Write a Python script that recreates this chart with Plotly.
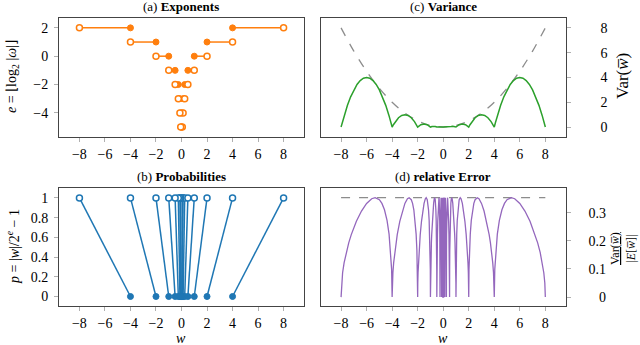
import plotly.graph_objects as go

# exponent e and the range [lo, hi) of |w| that it covers
exponents = [-5, -4, -3, -2, -1, 0, 1, 2]
lo_edges = [0.03125, 0.0625, 0.125, 0.25, 0.5, 1, 2, 4]
hi_edges = [0.0625, 0.125, 0.25, 0.5, 1, 2, 4, 8]

# variance of the rounded weight, read for w >= 0 (curve is symmetric)
var_w = [0, 0.25, 0.375, 0.5, 0.625, 0.75, 0.875, 1, 1.25, 1.5, 1.75, 2,
         2.1, 2.25, 2.5, 2.75, 3, 3.25, 3.5, 3.75, 3.9, 4,
         4.1, 4.25, 4.5, 4.75, 5, 5.25, 5.5, 5.75, 6,
         6.25, 6.5, 6.75, 7, 7.25, 7.5, 7.75, 7.9, 8]
var_vals = [0, 0, 0.016, 0, 0.047, 0.0625, 0.047, 0, 0.1875, 0.25, 0.1875, 0,
            0.19, 0.4375, 0.75, 0.9375, 1, 0.9375, 0.75, 0.4375, 0.19, 0,
            0.39, 0.9375, 1.75, 2.4375, 3, 3.4375, 3.75, 3.9375, 4,
            3.9375, 3.75, 3.4375, 3, 2.4375, 1.75, 0.9375, 0.39, 0]

# dashed upper bound of the variance
bound_w = [0, 1, 2, 3, 4, 5, 6, 7, 8]
bound_vals = [0, 0.125, 0.5, 1.125, 2, 3.125, 4.5, 6.125, 8]

# one arc of the relative error, position given as |w| / lo; all arcs look alike
arc_x = [1, 1.01, 1.03, 1.06, 1.1, 1.15, 1.2, 1.25, 1.333, 1.4, 1.5, 1.6,
         1.7, 1.8, 1.85, 1.9, 1.94, 1.97, 1.99, 2]
rel_err_arc = [0, 0.0985, 0.1656, 0.224, 0.2727, 0.3105, 0.3333, 0.3464,
               0.3536, 0.3499, 0.3333, 0.3062, 0.2696, 0.2222, 0.193, 0.1579,
               0.1224, 0.0866, 0.05, 0]
rel_err_max = 0.3536

w_ticks = [-8, -6, -4, -2, 0, 2, 4, 6, 8]
err_ticks = [0, 0.1, 0.2, 0.3]
# figure/punctuation spaces keep the right-hand labels flush right
err_ticktext = ["\u2007\u20080", "0.1", "0.2", "0.3"]

ORANGE = "#ff7f0e"
BLUE = "#1f77b4"
GREEN = "#2ca02c"
PURPLE = "#9467bd"
GRAY = "#8c8c8c"
FONT = "Liberation Serif"


def mirror(xs, ys):
    return [-x for x in reversed(xs)] + list(xs), list(reversed(ys)) + list(ys)


fig = go.Figure()

# (a) exponents
seg_x, seg_y = [], []
for e, lo, hi in zip(exponents, lo_edges, hi_edges):
    seg_x += [lo, hi, None, -lo, -hi, None]
    seg_y += [e, e, None, e, e, None]
fig.add_trace(go.Scatter(x=seg_x, y=seg_y, mode="lines",
                         line=dict(color=ORANGE, width=1.5),
                         xaxis="x", yaxis="y"))
fig.add_trace(go.Scatter(x=lo_edges + [-v for v in lo_edges], y=exponents * 2,
                         mode="markers",
                         marker=dict(color=ORANGE, size=6, line=dict(color=ORANGE, width=1)),
                         xaxis="x", yaxis="y"))
fig.add_trace(go.Scatter(x=hi_edges + [-v for v in hi_edges], y=exponents * 2,
                         mode="markers",
                         marker=dict(color="white", size=6, line=dict(color=ORANGE, width=1.5)),
                         xaxis="x", yaxis="y"))

# (b) probabilities
p_x, p_y = [], []
for lo, hi in zip(lo_edges, hi_edges):
    p_x += [lo, hi, None, -lo, -hi, None]
    p_y += [0, 1, None, 0, 1, None]
fig.add_trace(go.Scatter(x=p_x, y=p_y, mode="lines",
                         line=dict(color=BLUE, width=1.5),
                         xaxis="x2", yaxis="y2"))
fig.add_trace(go.Scatter(x=lo_edges + [-v for v in lo_edges], y=[0] * 16,
                         mode="markers",
                         marker=dict(color=BLUE, size=6, line=dict(color=BLUE, width=1)),
                         xaxis="x2", yaxis="y2"))
fig.add_trace(go.Scatter(x=hi_edges + [-v for v in hi_edges], y=[1] * 16,
                         mode="markers",
                         marker=dict(color="white", size=6, line=dict(color=BLUE, width=1.5)),
                         xaxis="x2", yaxis="y2"))

# (c) variance
bx, by = mirror(bound_w, bound_vals)
fig.add_trace(go.Scatter(x=bx, y=by, mode="lines", line_shape="spline",
                         line=dict(color=GRAY, width=1.3, dash="dash"),
                         xaxis="x3", yaxis="y3"))
vx, vy = mirror(var_w, var_vals)
fig.add_trace(go.Scatter(x=vx, y=vy, mode="lines",
                         line=dict(color=GREEN, width=1.5),
                         xaxis="x3", yaxis="y3"))

# (d) relative error
err_x, err_y = [], []
for lo in lo_edges:
    err_x += [lo * x for x in arc_x]
    err_y += rel_err_arc
ex, ey = mirror(err_x, err_y)
fig.add_trace(go.Scatter(x=[-8, 8], y=[rel_err_max, rel_err_max], mode="lines",
                         line=dict(color=GRAY, width=1.3, dash="dash"),
                         xaxis="x4", yaxis="y4"))
fig.add_trace(go.Scatter(x=ex, y=ey, mode="lines",
                         line=dict(color=PURPLE, width=1.3),
                         xaxis="x4", yaxis="y4"))


def xaxis(domain, anchor):
    return dict(domain=domain, anchor=anchor, range=[-9.6, 9.6], tickvals=w_ticks,
                showline=True, mirror=True, linecolor="#444444", linewidth=1,
                ticks="outside", ticklen=4, tickcolor="#b0b0b0",
                showgrid=False, zeroline=False, automargin=False,
                tickfont=dict(family=FONT, size=14, color="black"))


def yaxis(domain, anchor, rng, ticks, side="left", standoff=3, ticktext=None):
    ax = dict(domain=domain, anchor=anchor, range=rng, tickvals=ticks, side=side,
              showline=True, mirror=True, linecolor="#444444", linewidth=1,
              ticks="outside", ticklen=4, tickcolor="#b0b0b0",
              showgrid=False, zeroline=False, automargin=False,
              ticklabelstandoff=standoff,
              tickfont=dict(family=FONT, size=14, color="black"))
    if ticktext is not None:
        ax["ticktext"] = ticktext
    return ax


left = [0.0922, 0.475]
right = [0.501, 0.884]
top = [0.603, 0.948]
bottom = [0.112, 0.455]

fig.update_layout(
    width=640, height=345,
    margin=dict(l=0, r=0, t=0, b=0, autoexpand=False),
    paper_bgcolor="white", plot_bgcolor="white",
    showlegend=False,
    font=dict(family=FONT, size=14, color="black"),
    xaxis=xaxis(left, "y"),
    yaxis=yaxis(top, "x", [-5.7, 2.7], [-4, -2, 0, 2]),
    xaxis2=xaxis(left, "y2"),
    yaxis2=yaxis(bottom, "x2", [-0.1, 1.1], [0, 0.2, 0.4, 0.6, 0.8, 1]),
    xaxis3=xaxis(right, "y3"),
    yaxis3=yaxis(top, "x3", [-0.8, 8.8], [0, 2, 4, 6, 8], side="right", standoff=27),
    xaxis4=xaxis(right, "y4"),
    yaxis4=yaxis(bottom, "x4", [-0.033, 0.388], err_ticks, side="right", standoff=15,
                 ticktext=err_ticktext),
)

notes = [
    (181 / 640, 1 - 7 / 345, "(a) <b>Exponents</b>", 0, 13),
    (181 / 640, 1 - 176 / 345, "(b) <b>Probabilities</b>", 0, 13),
    (443 / 640, 1 - 7 / 345, "(c) <b>Variance</b>", 0, 13),
    (443 / 640, 1 - 176 / 345, "(d) <b>relative Error</b>", 0, 13),
    (181 / 640, 1 - 338 / 345, "<i>w</i>", 0, 14),
    (443 / 640, 1 - 338 / 345, "<i>w</i>", 0, 14),
    (13 / 640, 1 - 77 / 345, "<i>e</i> = ⌊log<sub>2</sub> |<i>ω</i>|⌋", -90, 14),
    (13 / 640, 1 - 247 / 345, "<i>p</i> = |<i>w</i>|/2<sup><i>e</i></sup> − 1", -90, 14),
    (622 / 640, 1 - 76 / 345, "Var(<i>w\u0305</i>)", -90, 17),
    (623 / 640, 1 - 249 / 345, "<u>Var(<i>w\u0305</i>)</u><br>|<i>E</i>[<i>w\u0305</i>]|", -90, 12),
]
for x, y, text, angle, size in notes:
    fig.add_annotation(x=x, y=y, xref="paper", yref="paper", text=text,
                       showarrow=False, textangle=angle,
                       xanchor="center", yanchor="middle",
                       font=dict(family=FONT, size=size, color="black"))

# the page's default body margin would push the figure off the window
fig.write_html("out.html", config={"displayModeBar": False},
               post_script="document.body.style.margin = '0';")
